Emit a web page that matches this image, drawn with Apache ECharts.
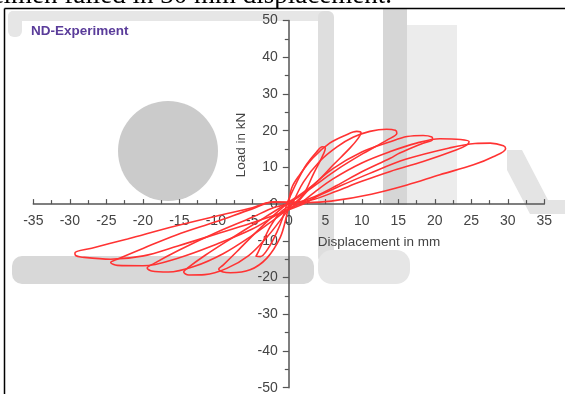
<!DOCTYPE html>
<html>
<head>
<meta charset="utf-8">
<script src="https://cdn.jsdelivr.net/npm/echarts@6/dist/echarts.min.js"></script>
<style>
  html, body { margin: 0; padding: 0; background: #fff; }
  #chart { width: 565px; height: 394px; }
</style>
</head>
<body>
<div id="chart"></div>
<script>
const cycle1 = [[-0.3,0],[1.1,6],[2.4,10.7],[3.8,14.2],[4.6,15.6],[5,15.2],[4.6,13],[3.3,7.9],[2.2,3.3],[1,0.6],[-1,-2],[-2.5,-6],[-3.6,-10.5],[-4.3,-13.5],[-4.5,-14.2],[-3.9,-14.3],[-2.8,-12],[-1.6,-7.5],[-0.8,-3.5],[-0.3,0]]
const cycle2 = [[0,0],[0.4,4.4],[1.5,8],[3.3,12.6],[5.6,16.6],[7.9,18.9],[9.3,19.8],[9.9,19.4],[9.5,17.9],[8.4,15.3],[6.1,10.7],[3.8,6],[1.5,2.5],[0,0.5],[-1.7,-2.4],[-4.4,-7.5],[-7.1,-12.9],[-9,-16.6],[-9.6,-17.7],[-9,-18.5],[-8,-18.7],[-5.3,-17.9],[-3,-14.7],[-1.2,-9.2],[-0.4,-4],[0,0]]
const cycle3 = [[0.5,0],[2,6],[4.3,11.8],[6.6,15.6],[8.8,18.2],[11.1,19.8],[13.4,20.4],[14.6,20.1],[14.8,19.3],[13.5,17.5],[10.2,13.8],[6.6,9.4],[3.5,5],[1,1.5],[-1,-0.8],[-4,-4.5],[-8,-9.5],[-11.5,-14],[-13.8,-17.3],[-14.4,-18.5],[-13.7,-19.3],[-11.5,-19.2],[-8.5,-17.5],[-5.5,-14],[-3,-9],[-1.2,-4.5],[0.5,0]]
const cycle4 = [[1,0],[3,4.5],[6,9.6],[10,14.2],[13.9,17],[16.2,18.4],[18.4,18.7],[19.6,18.3],[19.7,17.6],[18.4,16.6],[15.2,13.9],[13.9,12.5],[10,8.8],[6.5,5],[3.5,2],[1,0.3],[-2,-0.9],[-5,-3.6],[-10,-7.8],[-15,-12.5],[-18.5,-16.2],[-19.4,-17.4],[-18.8,-18.2],[-16.5,-18.5],[-13,-17],[-9,-13.5],[-5,-8.5],[-2,-4.2],[-0.5,-2],[1,0]]
const cycle5 = [[1.5,0],[3.5,3.2],[6,6.8],[10,11.2],[13.9,14.3],[17.5,16.6],[20.7,17.8],[23.5,17.6],[24.7,17],[24.3,16],[23,14.8],[18.4,11.6],[13.9,8.9],[10,6.2],[6.5,3.5],[3.5,1.3],[1,0.5],[-2,0.6],[-5,-1.3],[-10,-4.8],[-15.4,-8.4],[-19.9,-12],[-23.5,-15],[-24.4,-15.9],[-23.5,-16.7],[-20,-16.8],[-15,-14.6],[-10,-11],[-5,-6.8],[-1.5,-2.8],[1.5,0]]
const cycle6 = [[2,0],[4,2.2],[7,4.9],[11,8.3],[16,12.2],[22,15.3],[25.5,16.5],[27.6,16.6],[29.4,15.9],[29.7,15.1],[28,12.9],[25.3,10.7],[20.7,8],[16.2,5.2],[11.3,2.7],[5.8,0.8],[2.5,0.4],[-2.5,0.5],[-5,-1],[-10,-3.3],[-16.2,-6.3],[-22.1,-9.5],[-27,-12],[-29.3,-13.3],[-29.2,-14],[-28.5,-14.4],[-24.4,-15],[-19.9,-14.1],[-15.2,-11.4],[-10,-8.2],[-5.2,-5.2],[-1.5,-2.7],[2,0]]

const cycles = [cycle1, cycle2, cycle3, cycle4, cycle5, cycle6]
const cycleNames = ['Cycle 1', 'Cycle 2', 'Cycle 3', 'Cycle 4', 'Cycle 5', 'Cycle 6']

const chart = echarts.init(document.getElementById('chart'))

// plot area in px; the axes cross at the origin, so they are shifted in from the grid edges
const gridLeft = 33.3, gridRight = 20.7, gridTop = 20.5, gridBottom = 6.3
const plotW = 565 - gridLeft - gridRight
const plotH = 394 - gridTop - gridBottom
const xShift = plotW * 35 / 70   // from left edge to x = 0
const yShift = plotH * 50 / 100  // from bottom edge to y = 0

const axisColor = '#555'
const labelStyle = { color: '#444', fontSize: 14, fontFamily: 'Liberation Sans, Arial, sans-serif' }

// light grey watermark behind the plot
const watermark = [
  { type: 'rect', shape: { x: 8, y: 11, width: 324, height: 10, r: 5 }, style: { fill: '#e6e6e6' }, z: -10 },
  { type: 'rect', shape: { x: 8, y: 11, width: 14, height: 26, r: 6 }, style: { fill: '#e6e6e6' }, z: -10 },
  { type: 'rect', shape: { x: 318, y: 11, width: 16, height: 252, r: 6 }, style: { fill: '#dedede' }, z: -10 },
  { type: 'rect', shape: { x: 12, y: 256, width: 302, height: 28, r: 10 }, style: { fill: '#d8d8d8' }, z: -10 },
  { type: 'circle', shape: { cx: 168, cy: 151, r: 50 }, style: { fill: '#cbcbcb' }, z: -10 },
  { type: 'rect', shape: { x: 383, y: 9, width: 24, height: 196 }, style: { fill: '#d6d6d6' }, z: -10 },
  { type: 'rect', shape: { x: 407, y: 25, width: 50, height: 180 }, style: { fill: '#ececec' }, z: -10 },
  { type: 'rect', shape: { x: 318, y: 250, width: 92, height: 34, r: 14 }, style: { fill: '#e6e6e6' }, z: -10 },
  { type: 'polygon', shape: { points: [[507, 150], [522, 150], [548, 200], [565, 200], [565, 214], [530, 214], [507, 170]] }, style: { fill: '#e4e4e4' }, z: -10 }
]

const option = {
  animation: false,
  backgroundColor: '#fff',
  grid: { left: gridLeft, right: gridRight, top: gridTop, bottom: gridBottom, containLabel: false, outerBoundsMode: 'none' },
  xAxis: {
    type: 'value',
    min: -35,
    max: 35,
    interval: 5,
    position: 'bottom',
    offset: -yShift,
    axisLine: { onZero: false, lineStyle: { color: axisColor, width: 1.5 } },
    axisTick: { inside: true, length: 5, lineStyle: { color: axisColor, width: 1.2 } },
    minorTick: { show: true, splitNumber: 2, length: 4, lineStyle: { color: axisColor, width: 1.2 } },
    axisLabel: { ...labelStyle, margin: 10 },
    splitLine: { show: false }
  },
  yAxis: {
    type: 'value',
    min: -50,
    max: 50,
    interval: 10,
    position: 'left',
    offset: -xShift,
    axisLine: { onZero: false, lineStyle: { color: axisColor, width: 1.5 } },
    axisTick: { inside: false, length: 6, lineStyle: { color: axisColor, width: 1.2 } },
    minorTick: { show: true, splitNumber: 2, length: 4, lineStyle: { color: axisColor, width: 1.2 } },
    axisLabel: { ...labelStyle, margin: 11 },
    splitLine: { show: false }
  },
  graphic: [
    ...watermark,
    {
      type: 'text', left: 31, top: 24, z: 50,
      style: { text: 'ND-Experiment', fill: '#5a3c9a', font: 'bold 13.5px Liberation Sans, Arial, sans-serif' }
    },
    {
      type: 'text', x: 241, y: 145, rotation: Math.PI / 2, z: 50,
      style: { text: 'Load in kN', fill: '#444', font: '13.5px Liberation Sans, Arial, sans-serif', align: 'center', verticalAlign: 'middle' }
    },
    {
      type: 'text', x: 379, y: 242, z: 50,
      style: { text: 'Displacement in mm', fill: '#444', font: '13.5px Liberation Sans, Arial, sans-serif', align: 'center', verticalAlign: 'middle' }
    },
    {
      type: 'text', x: 392, y: -4, z: 50,
      style: { text: 'The specimen failed in 30 mm displacement.', fill: '#000', font: '27px Liberation Serif, Times New Roman, serif', align: 'right', verticalAlign: 'middle' }
    },
    { type: 'line', shape: { x1: 4.5, y1: 8.5, x2: 565, y2: 8.5 }, style: { stroke: '#000', lineWidth: 1.5 }, z: 50 },
    { type: 'line', shape: { x1: 4.5, y1: 8.5, x2: 4.5, y2: 394 }, style: { stroke: '#000', lineWidth: 1.5 }, z: 50 }
  ],
  series: cycles.map((pts, i) => ({
    name: cycleNames[i],
    type: 'line',
    data: pts,
    smooth: 0.35,
    showSymbol: false,
    lineStyle: { color: '#ff3333', width: 1.6 },
    z: 5
  }))
}

chart.setOption(option)
</script>
</body>
</html>
